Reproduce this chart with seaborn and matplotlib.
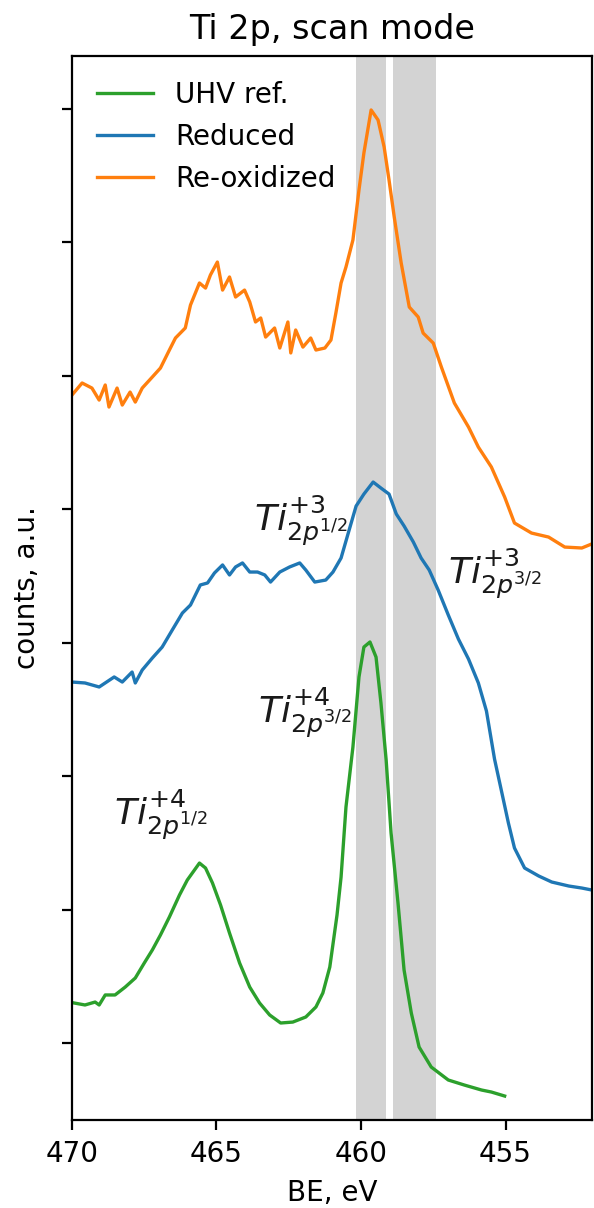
import matplotlib
matplotlib.use("Agg")
import matplotlib.pyplot as plt
import seaborn as sns
import numpy as np

# ---- data (binding energy in eV, counts in a.u. with vertical offsets) ----
uhv_be = [469.93, 469.55, 469.20, 469.06, 468.85, 468.51, 468.16, 467.81, 467.50, 467.22,
          466.94, 466.63, 466.28, 466.01, 465.59, 465.38, 465.14, 464.86, 464.55, 464.20,
          463.85, 463.51, 463.16, 462.78, 462.36, 461.91, 461.56, 461.32, 461.08, 460.83,
          460.69, 460.52, 460.28, 460.07, 459.90, 459.69, 459.48, 459.31, 459.13, 458.96,
          458.72, 458.51, 458.26, 457.99, 457.57, 456.98, 456.42, 455.83, 455.49, 455.03]
uhv_counts = [0.30, 0.285, 0.307, 0.285, 0.36, 0.36, 0.419, 0.487, 0.599, 0.697,
              0.809, 0.944, 1.109, 1.221, 1.348, 1.311, 1.199, 1.034, 0.824, 0.599,
              0.419, 0.30, 0.21, 0.15, 0.157, 0.195, 0.27, 0.375, 0.569, 0.959,
              1.243, 1.768, 2.217, 2.742, 2.966, 3.004, 2.891, 2.547, 2.12, 1.573,
              1.049, 0.547, 0.225, -0.03, -0.18, -0.277, -0.315, -0.352, -0.367, -0.397]

red_be = [470.00, 469.55, 469.06, 468.54, 468.26, 467.92, 467.81, 467.57, 467.22, 466.88,
          466.53, 466.18, 465.90, 465.56, 465.31, 465.07, 464.79, 464.55, 464.34, 464.10,
          463.85, 463.58, 463.33, 463.13, 462.81, 462.47, 462.12, 461.91, 461.60, 461.22,
          460.97, 460.69, 460.45, 460.17, 459.90, 459.58, 459.31, 459.03, 458.78, 458.51,
          458.19, 457.92, 457.64, 457.33, 456.98, 456.63, 456.28, 455.94, 455.66, 455.38,
          455.14, 454.90, 454.69, 454.34, 453.85, 453.40, 452.81, 452.36, 452.01]
red_counts = [2.704, 2.697, 2.667, 2.742, 2.704, 2.779, 2.697, 2.794, 2.884, 2.966,
              3.094, 3.221, 3.281, 3.431, 3.446, 3.521, 3.581, 3.506, 3.566, 3.596,
              3.528, 3.528, 3.506, 3.453, 3.528, 3.566, 3.596, 3.543, 3.453, 3.468,
              3.528, 3.633, 3.813, 4.022, 4.112, 4.202, 4.157, 4.112, 3.963, 3.873,
              3.753, 3.633, 3.543, 3.393, 3.206, 3.026, 2.876, 2.697, 2.487, 2.127,
              1.888, 1.648, 1.461, 1.311, 1.251, 1.206, 1.176, 1.161, 1.146]

reox_be = [470.00, 469.65, 469.31, 469.06, 468.85, 468.72, 468.44, 468.26, 467.99, 467.81,
           467.57, 467.22, 466.94, 466.63, 466.42, 466.08, 465.90, 465.59, 465.38, 465.21,
           464.97, 464.79, 464.55, 464.34, 464.03, 463.85, 463.65, 463.47, 463.30, 462.99,
           462.81, 462.53, 462.43, 462.26, 462.01, 461.74, 461.56, 461.25, 461.04, 460.87,
           460.69, 460.52, 460.28, 460.07, 459.90, 459.65, 459.41, 459.20, 459.03, 458.85,
           458.61, 458.33, 458.02, 457.85, 457.50, 457.22, 456.77, 456.28, 455.94, 455.49,
           455.03, 454.69, 454.10, 453.51, 452.95, 452.36, 451.94]
reox_counts = [4.854, 4.944, 4.906, 4.816, 4.929, 4.764, 4.906, 4.779, 4.876, 4.801,
               4.906, 4.989, 5.056, 5.191, 5.281, 5.356, 5.528, 5.693, 5.655, 5.753,
               5.850, 5.640, 5.738, 5.588, 5.640, 5.551, 5.401, 5.431, 5.288, 5.356,
               5.206, 5.401, 5.169, 5.341, 5.213, 5.281, 5.191, 5.206, 5.266, 5.468,
               5.693, 5.813, 6.015, 6.390, 6.667, 6.989, 6.914, 6.712, 6.464, 6.187,
               5.843, 5.513, 5.438, 5.318, 5.243, 5.064, 4.794, 4.614, 4.464, 4.315,
               4.090, 3.895, 3.820, 3.790, 3.715, 3.708, 3.745]

series_labels = ["UHV ref.", "Reduced", "Re-oxidized"]
series_colors = ["#2ca02c", "#1f77b4", "#ff7f0e"]

spans = [(460.17, 459.13), (458.90, 457.42)]

x_ticks = [470, 465, 460, 455]
y_ticks = [0, 1, 2, 3, 4, 5, 6, 7]

annotations = [
    (463.70, 3.83, r"$Ti^{+3}_{2p^{1/2}}$"),
    (457.00, 3.43, r"$Ti^{+3}_{2p^{3/2}}$"),
    (463.58, 2.40, r"$Ti^{+4}_{2p^{3/2}}$"),
    (468.55, 1.63, r"$Ti^{+4}_{2p^{1/2}}$"),
]

# ---- figure ----
fig, ax = plt.subplots(figsize=(2.97, 6.04), dpi=200)
fig.subplots_adjust(left=0.1212, right=0.997, top=0.9536, bottom=0.0728)

for lo, hi in spans:
    ax.axvspan(lo, hi, color="lightgray", lw=0, zorder=0)

for be, cnt, lab, col in zip([uhv_be, red_be, reox_be],
                             [uhv_counts, red_counts, reox_counts],
                             series_labels, series_colors):
    sns.lineplot(x=be, y=cnt, ax=ax, color=col, label=lab, lw=1.2, sort=False)

for x, y, s in annotations:
    ax.text(x, y, s, fontsize=13, color="#1a1a1a")

ax.set_xlim(470, 452)
ax.set_ylim(-0.577, 7.393)
ax.set_xticks(x_ticks)
ax.set_yticks(y_ticks)
ax.set_yticklabels([])
ax.set_xlabel("BE, eV")
ax.set_ylabel("counts, a.u.")
ax.set_title("Ti 2p, scan mode")
ax.legend(loc="upper left", frameon=False)

fig.savefig("out.png", dpi=200)
